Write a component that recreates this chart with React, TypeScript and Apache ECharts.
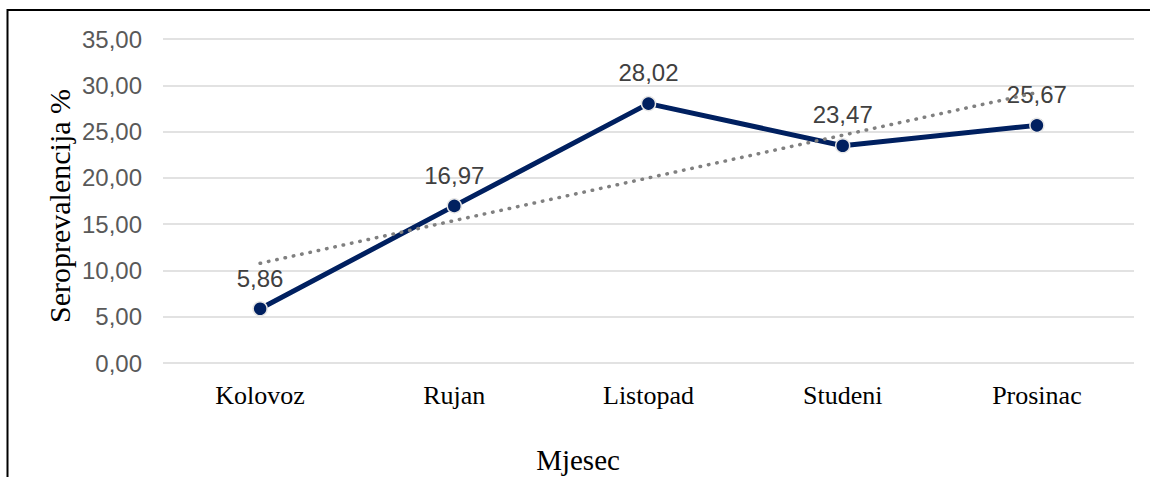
import React, { useEffect, useRef } from "react";
import * as echarts from "echarts";

const categories = ["Kolovoz", "Rujan", "Listopad", "Studeni", "Prosinac"];
const seroValues = [5.86, 16.97, 28.02, 23.47, 25.67];
// Linear trendline end points
const trendValues: (number | string)[] = [10.77, "-", "-", "-", 29.22];
const yTicks = { min: 0, max: 35, interval: 5 };
const xTitle = "Mjesec";
const yTitle = "Seroprevalencija %";

const SERIF = '"Liberation Serif", "Times New Roman", serif';
const SANS = '"Liberation Sans", Arial, sans-serif';
const fmt = (v: number) => v.toFixed(2).replace(".", ",");

export default function App() {
  const ref = useRef<HTMLDivElement>(null);
  useEffect(() => {
    if (!ref.current) return;
    const chart = echarts.init(ref.current, null, { renderer: "svg" });
    chart.setOption({
      animation: false,
      backgroundColor: "#ffffff",
      grid: { left: 163, right: 16, top: 39, bottom: 114, containLabel: false },
      xAxis: {
        type: "category",
        data: categories,
        boundaryGap: true,
        axisLine: { show: false },
        axisTick: { show: false },
        axisLabel: { color: "#000000", fontFamily: SERIF, fontSize: 26, margin: 19 },
      },
      yAxis: {
        type: "value",
        min: yTicks.min,
        max: yTicks.max,
        interval: yTicks.interval,
        axisLine: { show: false },
        axisTick: { show: false },
        axisLabel: {
          color: "#595959",
          fontFamily: SANS,
          fontSize: 24,
          margin: 21,
          formatter: (v: number) => fmt(v),
        },
        splitLine: { lineStyle: { color: "#d9d9d9", width: 1.5 } },
      },
      series: [
        {
          type: "line",
          data: seroValues,
          symbol: "circle",
          symbolSize: 14,
          z: 3,
          lineStyle: { color: "#002060", width: 5 },
          itemStyle: { color: "#002060", borderColor: "#e6e6e6", borderWidth: 1.5 },
          label: {
            show: true,
            position: "top",
            distance: 11,
            color: "#404040",
            fontFamily: SANS,
            fontSize: 24,
            formatter: (p: any) => fmt(p.value),
          },
        },
        {
          type: "line",
          data: trendValues,
          connectNulls: true,
          symbol: "none",
          z: 4,
          lineStyle: { color: "#808080", width: 3.5, type: [0.5, 8], cap: "round" },
          silent: true,
        },
      ],
      graphic: [
        {
          type: "rect",
          shape: { x: 7.5, y: 10, width: 1300, height: 700 },
          style: { fill: "none", stroke: "#000000", lineWidth: 2 },
          silent: true,
        },
        {
          type: "text",
          x: 578,
          y: 460,
          style: {
            text: xTitle,
            font: `29px ${SERIF}`,
            fill: "#000000",
            align: "center",
            verticalAlign: "middle",
          },
        },
        {
          type: "text",
          x: 59,
          y: 206,
          rotation: Math.PI / 2,
          style: {
            text: yTitle,
            font: `30px ${SERIF}`,
            fill: "#000000",
            align: "center",
            verticalAlign: "middle",
          },
        },
      ],
    });
    return () => chart.dispose();
  }, []);
  return (
    <div
      ref={ref}
      style={{ position: "absolute", left: 0, top: 0, width: 1150, height: 477 }}
    />
  );
}
